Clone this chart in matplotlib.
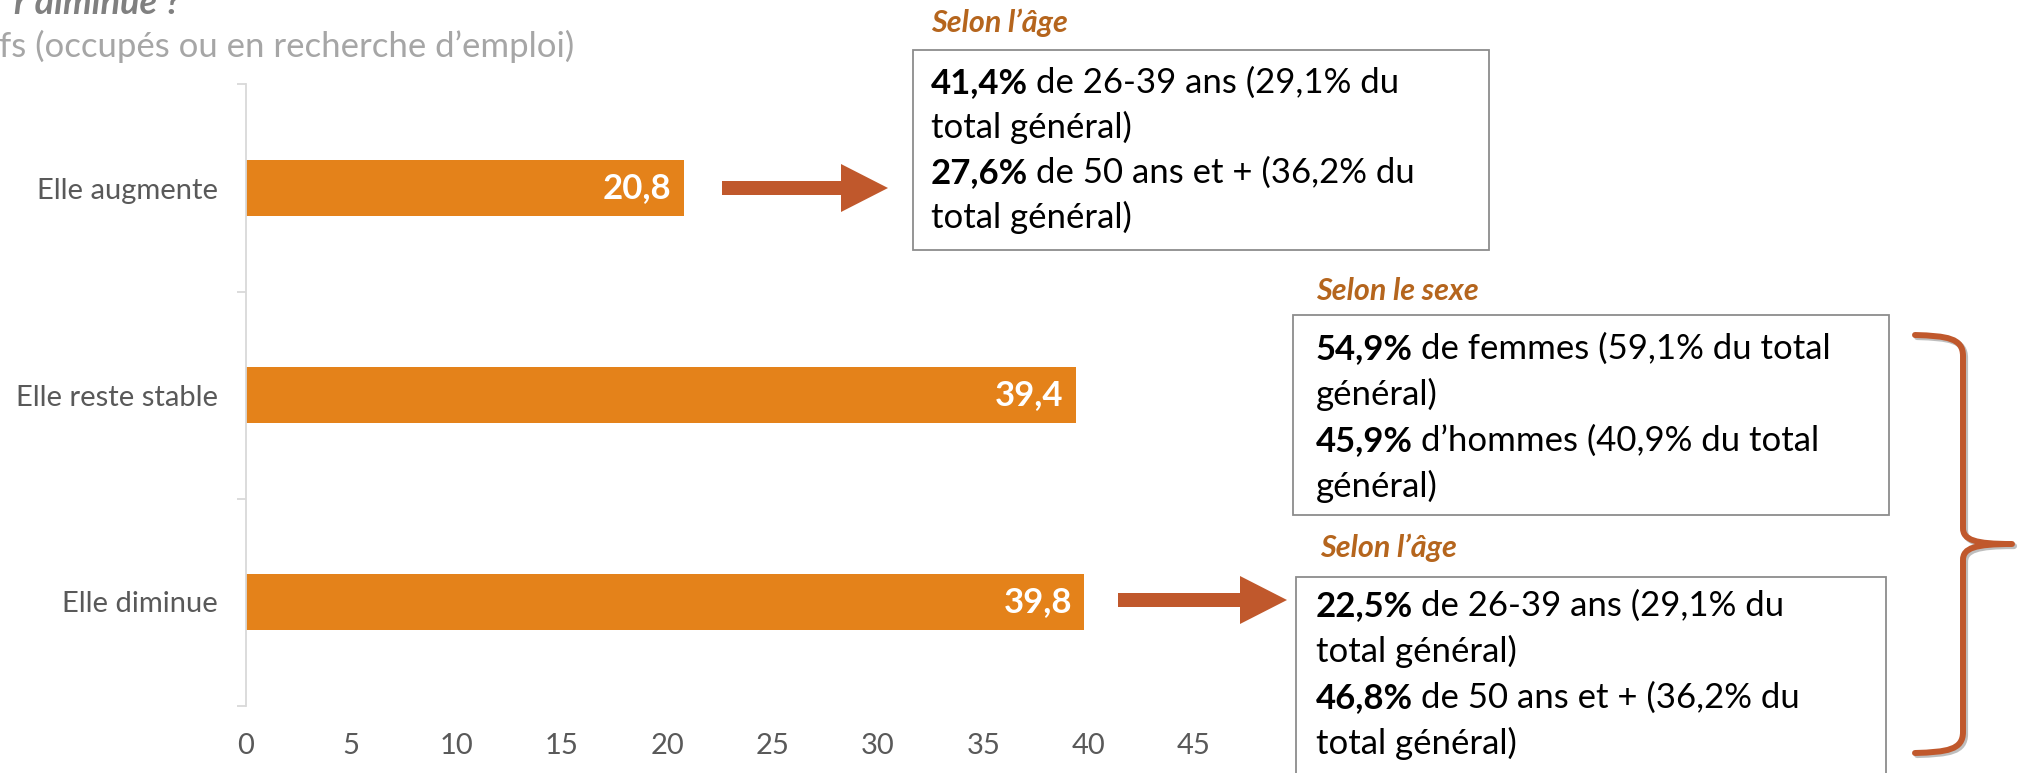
import matplotlib
matplotlib.use("Agg")
import matplotlib.pyplot as plt
from matplotlib.patches import Rectangle, Polygon, PathPatch
from matplotlib.path import Path
from matplotlib.transforms import Affine2D
import matplotlib.patheffects as pe

plt.rcParams['font.family'] = ['Lato', 'DejaVu Sans']

# data
categories = ["Elle augmente", "Elle reste stable", "Elle diminue"]
values = [20.8, 39.4, 39.8]
x_ticks = [0, 5, 10, 15, 20, 25, 30, 35, 40, 45]

title_fragment = "r diminue ?"
subtitle_fragment = "fs (occupés ou en recherche d’emploi)"

age_title = "Selon l’âge"
sexe_title = "Selon le sexe"
age_top_lines = [("41,4%", "de 26-39 ans (29,1% du"), ("", "total général)"),
                 ("27,6%", "de 50 ans et + (36,2% du"), ("", "total général)")]
sexe_lines = [("54,9%", "de femmes (59,1% du total"), ("", "général)"),
              ("45,9%", "d’hommes (40,9% du total"), ("", "général)")]
age_bottom_lines = [("22,5%", "de 26-39 ans (29,1% du"), ("", "total général)"),
                    ("46,8%", "de 50 ans et + (36,2% du"), ("", "total général)")]

BAR = "#E4821A"
RUST = "#C0582C"
HEAD = "#B5651D"
GREY = "#595959"

W, H = 2022, 773
fig = plt.figure(figsize=(W / 100, H / 100), dpi=100)
# pixel coordinates, origin top-left
px = Affine2D().scale(1 / W, -1 / H).translate(0, 1) + fig.transFigure

ax = fig.add_axes([245.5 / W, (H - 705.5) / H, (1299.5 - 245.5) / W, (705.5 - 84.5) / H])
pos = list(range(len(categories)))
ax.barh(pos, values, height=0.27, color=BAR, zorder=2)
ax.set_xlim(0, 50)
ax.set_ylim(2.5, -0.5)
ax.set_yticks(pos, categories)
ax.set_yticks([-0.5, 0.5, 1.5, 2.5], minor=True)
ax.set_xticks(x_ticks)
for s in ["top", "right", "bottom"]:
    ax.spines[s].set_visible(False)
ax.spines["left"].set_color("#D9D9D9")
ax.spines["left"].set_linewidth(1.3)
ax.tick_params(axis="y", which="major", length=0, pad=20, labelsize=21, labelcolor=GREY)
ax.tick_params(axis="y", which="minor", length=6.5, width=1.3, color="#D9D9D9")
ax.tick_params(axis="x", length=0, pad=20, labelsize=21, labelcolor=GREY)

for i, v in enumerate(values):
    ax.annotate(f"{v:.1f}".replace(".", ","), xy=(v, i), xytext=(-9, 0),
                textcoords="offset points", ha="right", va="center",
                color="white", fontweight="bold", fontsize=25, zorder=3)

# partial title / subtitle cut by the frame
fig.text(180, 14, title_fragment, transform=px, ha="right", va="baseline",
         fontsize=26, fontweight="bold", fontstyle="italic", color="#808080")
fig.text(574, 57, subtitle_fragment, transform=px, ha="right", va="baseline",
         fontsize=25, color="#A6A6A6")

# arrows
def arrow(x0, x1, y, half=7, head_half=24, head_len=47):
    pts = [(x0, y - half), (x1 - head_len, y - half), (x1 - head_len, y - head_half),
           (x1, y), (x1 - head_len, y + head_half), (x1 - head_len, y + half), (x0, y + half)]
    fig.add_artist(Polygon(pts, closed=True, transform=px, facecolor=RUST,
                           edgecolor="none", zorder=4))

arrow(722, 888, 188)
arrow(1118, 1287, 600)

# boxes
renderer = fig.canvas.get_renderer()

def box(x0, y0, x1, y1, title, tx, ty, lines, lx, ly0, step=46, size=25):
    fig.add_artist(Rectangle((x0, y0), x1 - x0, y1 - y0, transform=px, facecolor="white",
                             edgecolor="#8C8C8C", linewidth=1.3, zorder=5))
    fig.text(tx, ty, title, transform=px, ha="left", va="baseline", fontsize=22,
             fontweight="bold", fontstyle="italic", color=HEAD, zorder=6)
    for k, (b, rest) in enumerate(lines):
        y = ly0 + k * step
        x = lx
        if b:
            t = fig.text(lx, y, b, transform=px, ha="left", va="baseline", fontsize=size,
                         fontweight="bold", color="black", zorder=6)
            x = t.get_window_extent(renderer).x1 + 0.23 * size * 100 / 72
        fig.text(x, y, rest, transform=px, ha="left", va="baseline", fontsize=size,
                 color="black", zorder=6)

box(913, 50, 1489, 250, age_title, 931, 32, age_top_lines, 931, 93, step=45)
box(1293, 315, 1889, 515, sexe_title, 1316, 300, sexe_lines, 1316, 359)
box(1296, 577, 1886, 800, age_title, 1320, 557, age_bottom_lines, 1316, 616)

# curly brace
ta, bt, md = 338, 750, 544
xa, xv, xt = 1915, 1963, 2012
verts = [(xa, ta - 3),
         (xa + 32, ta - 2), (xv, ta), (xv, ta + 18),
         (xv, md - 16),
         (xv, md - 4), (xv + 12, md), (xt, md),
         (xv + 12, md), (xv, md + 4), (xv, md + 16),
         (xv, bt - 18),
         (xv, bt), (xa + 32, bt + 2), (xa, bt + 3)]
codes = [Path.MOVETO] + [Path.CURVE4] * 3 + [Path.LINETO] + [Path.CURVE4] * 6 + \
        [Path.LINETO] + [Path.CURVE4] * 3
brace = PathPatch(Path(verts, codes), transform=px, fill=False, edgecolor=RUST,
                  linewidth=4.3, capstyle="round", joinstyle="round", zorder=4)
brace.set_path_effects([pe.SimpleLineShadow(offset=(1.5, -1.5), shadow_color="#7F7F7F",
                                            alpha=0.5), pe.Normal()])
fig.add_artist(brace)

fig.savefig("out.png", dpi=100, facecolor="white")
